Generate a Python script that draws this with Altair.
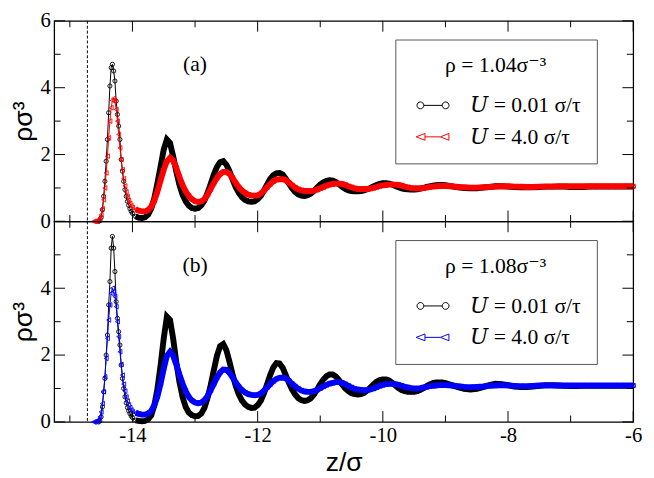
import math
import altair as alt
import pandas as pd

# ---------------- data ----------------
Z_FINE = [-14.64, -14.62, -14.60, -14.58, -14.56, -14.54, -14.52, -14.50, -14.48, -14.46,
          -14.44, -14.42, -14.40, -14.38, -14.36, -14.34, -14.32, -14.30, -14.28, -14.26,
          -14.24, -14.22, -14.20, -14.18, -14.16, -14.14, -14.12, -14.10, -14.08, -14.06,
          -14.04, -14.02, -14.00]
Z_MED = [-13.95, -13.90, -13.85, -13.80, -13.75, -13.70, -13.65, -13.60, -13.55, -13.50,
         -13.45, -13.40, -13.35, -13.30, -13.25, -13.20, -13.15, -13.10, -13.05, -13.00,
         -12.95, -12.90, -12.85, -12.80, -12.75, -12.70, -12.65, -12.60, -12.55, -12.50,
         -12.45, -12.40, -12.35, -12.30, -12.25, -12.20, -12.15, -12.10, -12.05, -12.00,
         -11.95, -11.90, -11.85, -11.80, -11.75, -11.70, -11.65, -11.60, -11.55, -11.50,
         -11.45, -11.40, -11.35, -11.30, -11.25, -11.20, -11.15, -11.10, -11.05, -11.00,
         -10.95, -10.90, -10.85, -10.80, -10.75, -10.70, -10.65, -10.60, -10.55, -10.50,
         -10.45, -10.40, -10.35, -10.30, -10.25, -10.20, -10.15, -10.10, -10.05, -10.00,
         -9.95, -9.90, -9.85, -9.80, -9.75, -9.70, -9.65, -9.60, -9.55, -9.50,
         -9.45, -9.40, -9.35, -9.30, -9.25, -9.20, -9.15, -9.10, -9.05, -9.00]
Z_COARSE = [-8.9, -8.8, -8.7, -8.6, -8.5, -8.4, -8.3, -8.2, -8.1, -8.0,
            -7.9, -7.8, -7.7, -7.6, -7.5, -7.4, -7.3, -7.2, -7.1, -7.0,
            -6.9, -6.8, -6.7, -6.6, -6.5, -6.4, -6.3, -6.2, -6.1, -6.0]
Z = Z_FINE + Z_MED + Z_COARSE

# panel (a), rho = 1.04, U = 0.01
A_SLOW = [None, None, None, None, None, 0.0, 0.02, 0.12, 0.35, 0.75,
          1.2, 1.8, 2.45, 3.25, 4.05, 4.6, 4.7, 4.5, 4.2, 3.6,
          3.2, 2.85, 2.45, 1.85, 1.5, 1.2, 0.95, 0.75, 0.6, 0.48,
          0.38, 0.3, 0.24,
          0.15, 0.11, 0.10, 0.12, 0.2, 0.38, 0.7, 1.15, 1.65, 2.15,
          2.45, 2.35, 1.95, 1.5, 1.1, 0.8, 0.6, 0.47, 0.4, 0.38,
          0.4, 0.48, 0.62, 0.85, 1.12, 1.4, 1.63, 1.77, 1.8, 1.7,
          1.5, 1.25, 1.02, 0.85, 0.72, 0.64, 0.6, 0.59, 0.6, 0.66,
          0.76, 0.92, 1.1, 1.27, 1.38, 1.44, 1.45, 1.4, 1.28, 1.13,
          0.99, 0.88, 0.81, 0.77, 0.76, 0.78, 0.83, 0.91, 1.01, 1.1,
          1.17, 1.21, 1.23, 1.22, 1.18, 1.11, 1.03, 0.97, 0.93, 0.91,
          0.9, 0.9, 0.91, 0.93, 0.96, 1.0, 1.05, 1.09, 1.12, 1.14,
          1.14, 1.13, 1.1, 1.06, 1.02, 0.99, 0.97, 0.96, 0.95, 0.95,
          0.96, 0.98, 1.0, 1.03, 1.05, 1.07, 1.08, 1.09, 1.09, 1.08,
          1.05, 1.02, 1.0, 0.99, 0.99, 1.01, 1.03, 1.05, 1.05, 1.04,
          1.03, 1.02, 1.02, 1.02, 1.03, 1.04, 1.04, 1.04, 1.04, 1.03,
          1.03, 1.03, 1.04, 1.04, 1.04, 1.04, 1.04, 1.04, 1.04, 1.04]
# panel (a), rho = 1.04, U = 4.0
A_FAST = [None, 0.0, 0.0, 0.01, 0.02, 0.05, 0.1, 0.2, 0.38, 0.65,
          1.0, 1.45, 1.95, 2.5, 3.0, 3.4, 3.62, 3.68, 3.6, 3.35,
          3.0, 2.6, 2.2, 1.85, 1.55, 1.28, 1.06, 0.88, 0.74, 0.63,
          0.54, 0.47, 0.42,
          0.36, 0.32, 0.3, 0.3, 0.34, 0.44, 0.62, 0.9, 1.23, 1.55,
          1.8, 1.9, 1.82, 1.6, 1.33, 1.09, 0.9, 0.76, 0.66, 0.6,
          0.58, 0.6, 0.67, 0.8, 0.97, 1.15, 1.3, 1.42, 1.48, 1.48,
          1.42, 1.3, 1.15, 1.02, 0.92, 0.85, 0.8, 0.78, 0.77, 0.78,
          0.83, 0.92, 1.02, 1.12, 1.2, 1.25, 1.26, 1.26, 1.23, 1.16,
          1.08, 1.01, 0.96, 0.93, 0.91, 0.91, 0.91, 0.92, 0.95, 0.99,
          1.03, 1.07, 1.1, 1.12, 1.13, 1.13, 1.12, 1.09, 1.05, 1.02,
          0.99, 0.97, 0.97, 0.97, 0.97, 0.98, 1.0, 1.03, 1.06, 1.08,
          1.09, 1.1, 1.1, 1.1, 1.09, 1.07, 1.04, 1.02, 1.0, 0.99,
          0.99, 0.99, 1.0, 1.01, 1.03, 1.04, 1.05, 1.06, 1.06, 1.06,
          1.05, 1.03, 1.02, 1.01, 1.01, 1.02, 1.03, 1.04, 1.05, 1.05,
          1.04, 1.04, 1.03, 1.03, 1.04, 1.04, 1.04, 1.05, 1.05, 1.05,
          1.05, 1.05, 1.05, 1.05, 1.05, 1.05, 1.05, 1.05, 1.05, 1.05]
# panel (b), rho = 1.08, U = 0.01
B_SLOW = [None, None, None, None, None, 0.0, 0.03, 0.15, 0.45, 0.9,
          1.3, 2.0, 2.6, 3.5, 4.2, 5.2, 5.55, 5.2, 4.5, 3.6,
          3.1, 2.7, 2.3, 1.7, 1.3, 1.0, 0.75, 0.57, 0.43, 0.33,
          0.25, 0.18, 0.13,
          0.05, 0.03, 0.02, 0.03, 0.08, 0.2, 0.5, 1.0, 1.7, 2.5,
          3.15, 3.05, 2.5, 1.8, 1.2, 0.75, 0.45, 0.28, 0.2, 0.17,
          0.18, 0.25, 0.42, 0.72, 1.1, 1.55, 1.98, 2.27, 2.33, 2.15,
          1.8, 1.42, 1.08, 0.82, 0.64, 0.52, 0.45, 0.42, 0.43, 0.5,
          0.63, 0.85, 1.12, 1.4, 1.63, 1.76, 1.75, 1.62, 1.4, 1.17,
          0.97, 0.82, 0.71, 0.65, 0.63, 0.65, 0.71, 0.82, 0.97, 1.13,
          1.27, 1.37, 1.42, 1.42, 1.36, 1.25, 1.12, 1.0, 0.92, 0.86,
          0.83, 0.82, 0.83, 0.87, 0.94, 1.03, 1.12, 1.2, 1.25, 1.27,
          1.27, 1.24, 1.17, 1.09, 1.01, 0.95, 0.92, 0.9, 0.9, 0.9,
          0.92, 0.96, 1.01, 1.07, 1.12, 1.16, 1.18, 1.18, 1.18, 1.16,
          1.1, 1.04, 0.99, 0.97, 0.99, 1.04, 1.1, 1.14, 1.13, 1.1,
          1.06, 1.04, 1.04, 1.06, 1.08, 1.1, 1.1, 1.09, 1.08, 1.07,
          1.07, 1.08, 1.08, 1.08, 1.08, 1.08, 1.08, 1.08, 1.08, 1.08]
# panel (b), rho = 1.08, U = 4.0
B_FAST = [None, 0.0, 0.0, 0.01, 0.03, 0.07, 0.15, 0.3, 0.55, 0.9,
          1.35, 1.9, 2.5, 3.05, 3.5, 3.85, 4.0, 3.9, 3.75, 3.45,
          3.0, 2.55, 2.1, 1.72, 1.4, 1.13, 0.92, 0.75, 0.62, 0.51,
          0.43, 0.36, 0.31,
          0.27, 0.24, 0.22, 0.22, 0.25, 0.33, 0.5, 0.77, 1.15, 1.6,
          1.98, 2.1, 1.98, 1.72, 1.42, 1.15, 0.92, 0.75, 0.64, 0.58,
          0.56, 0.58, 0.65, 0.78, 0.95, 1.14, 1.33, 1.48, 1.57, 1.56,
          1.47, 1.33, 1.18, 1.05, 0.95, 0.88, 0.83, 0.81, 0.8, 0.81,
          0.85, 0.93, 1.03, 1.13, 1.22, 1.29, 1.32, 1.33, 1.3, 1.23,
          1.14, 1.06, 0.99, 0.94, 0.91, 0.9, 0.9, 0.92, 0.96, 1.01,
          1.06, 1.11, 1.15, 1.17, 1.19, 1.19, 1.17, 1.13, 1.08, 1.03,
          0.99, 0.97, 0.96, 0.95, 0.95, 0.97, 1.0, 1.04, 1.08, 1.11,
          1.13, 1.14, 1.14, 1.13, 1.11, 1.08, 1.05, 1.03, 1.01, 1.0,
          1.0, 1.01, 1.03, 1.05, 1.07, 1.08, 1.09, 1.1, 1.1, 1.1,
          1.09, 1.07, 1.05, 1.04, 1.05, 1.06, 1.08, 1.09, 1.1, 1.09,
          1.08, 1.07, 1.07, 1.08, 1.09, 1.09, 1.09, 1.09, 1.09, 1.09,
          1.09, 1.09, 1.09, 1.09, 1.09, 1.09, 1.09, 1.09, 1.09, 1.09]

SERIES = ["𝑈 = 0.01 σ/τ", "𝑈 = 4.0 σ/τ"]
PANELS = ["(a)", "(b)"]
DENSITY_TITLES = ["ρ = 1.04σ⁻³", "ρ = 1.08σ⁻³"]
PANEL_COLORS = [["#000000", "#ff0000"], ["#000000", "#0000ff"]]
VALUES = [[A_SLOW, A_FAST], [B_SLOW, B_FAST]]
WALL_Z = [-14.72]
LABEL_Z = [-13.0]
LABEL_RHO = [4.7]
X_DOMAIN = [-15.25, -6]
Y_DOMAIN = [0, 6]
X_MAJOR = [-14, -12, -10, -8, -6]
X_MINOR = [-15, -13, -11, -9, -7]
Y_MAJOR = [0, 2, 4, 6]
Y_MINOR = [1, 3, 5]
Y_LABELS = [[0, 2, 4, 6], [0, 2, 4]]

for pv in VALUES:
    for s in pv:
        assert len(s) == len(Z), len(s)

rows = []
for pi, p in enumerate(PANELS):
    for si, s in enumerate(SERIES):
        for z, v in zip(Z, VALUES[pi][si]):
            if v is not None:
                rows.append({"panel": p, "series": s, "z": z, "rho": v})
df = pd.DataFrame(rows)

SERIF = "Liberation Serif"
LEGEND_FONT = "Liberation Serif, DejaVu Serif, serif"
SANS = "Liberation Sans"
W, H = 589, 204
MAJOR_LEN, MINOR_LEN = 11, 6.5


def ring(cx, r, n=16):
    pts = [(cx + r * math.cos(2 * math.pi * k / n), r * math.sin(2 * math.pi * k / n)) for k in range(n)]
    return "M" + " L".join(f"{x:.3f} {y:.3f}" for x, y in pts) + " Z"


CIRC_PATH = "M0.19 0 L1.97 0 " + ring(-0.14, 0.33) + " " + ring(2.30, 0.33)
TRI_PATH = "M-0.55 0 L0.3 -0.33 L0.3 0.33 Z M0.3 0 L1.8 0 M1.8 0 L2.62 -0.33 L2.62 0.33 Z"


def panel(pi):
    p = PANELS[pi]
    d = df[df.panel == p]
    xs = alt.Scale(domain=X_DOMAIN, nice=False, zero=False)
    ys = alt.Scale(domain=Y_DOMAIN, nice=False, zero=False)
    c_slow, c_fast = PANEL_COLORS[pi]

    def X(axis, field="z"):
        return alt.X(f"{field}:Q", scale=xs, axis=axis)

    def Y(axis, field="rho"):
        return alt.Y(f"{field}:Q", scale=ys, axis=axis)

    if pi == 1:
        x_lab = alt.Axis(orient="bottom", values=X_MAJOR, ticks=False, tickSize=0, domain=False,
                         grid=False, labelFont=SERIF, labelFontSize=21, labelPadding=3,
                         labelFlush=False, labelExpr="'' + datum.value",
                         title="z/σ", titleFont=SANS, titleFontSize=27, titleFontWeight="normal",
                         titlePadding=4)
    else:
        x_lab = None
    y_lab = alt.Axis(orient="left", values=Y_LABELS[pi], ticks=False, tickSize=0, domain=False,
                     grid=False, labelFont=SERIF, labelFontSize=21, labelPadding=4,
                     labelFlush=False,
                     title="ρσ³", titleFont=SANS, titleFontSize=27, titleFontWeight="normal",
                     titlePadding=3)

    # inward ticks on all four edges, placed through the scales
    ticks = []
    for vals, ln in ((X_MAJOR, MAJOR_LEN), (X_MINOR, MINOR_LEN)):
        src = alt.Chart(pd.DataFrame({"v": vals})).mark_rule(color="black", strokeWidth=1)
        ticks.append(src.encode(x=X(None, "v"), y=alt.value(H), y2=alt.value(H - ln)))
        ticks.append(src.encode(x=X(None, "v"), y=alt.value(0), y2=alt.value(ln)))
    for vals, ln in ((Y_MAJOR, MAJOR_LEN), (Y_MINOR, MINOR_LEN)):
        src = alt.Chart(pd.DataFrame({"v": vals})).mark_rule(color="black", strokeWidth=1)
        ticks.append(src.encode(y=Y(None, "v"), x=alt.value(0), x2=alt.value(ln)))
        ticks.append(src.encode(y=Y(None, "v"), x=alt.value(W), x2=alt.value(W - ln)))

    slow = alt.Chart(d).transform_filter(alt.datum.series == SERIES[0])
    fast = alt.Chart(d).transform_filter(alt.datum.series == SERIES[1])

    wall = alt.Chart(pd.DataFrame({"z": WALL_Z})).mark_rule(
        color="black", strokeWidth=1, strokeDash=[3, 2]).encode(x=X(None))

    slow_band = slow.transform_filter(alt.datum.z >= -13.96).mark_line(
        color=c_slow, strokeWidth=6).encode(x=X(x_lab), y=Y(y_lab))
    slow_line = slow.mark_line(color=c_slow, strokeWidth=1).encode(x=X(None), y=Y(None))
    slow_pts = slow.mark_point(shape="circle", filled=False, color=c_slow, size=18,
                               strokeWidth=0.9, opacity=1).encode(x=X(None), y=Y(None))
    fast_band = fast.transform_filter(alt.datum.z >= -13.96).mark_line(
        color=c_fast, strokeWidth=6).encode(x=X(None), y=Y(None))
    fast_line = fast.mark_line(color=c_fast, strokeWidth=1).encode(x=X(None), y=Y(None))
    fast_pts = fast.mark_point(shape="triangle-left", filled=False, color=c_fast, size=22,
                               strokeWidth=0.9, opacity=1).encode(x=X(None), y=Y(None))

    leg = alt.Legend(title=DENSITY_TITLES[pi], orient="none", legendX=347, legendY=19,
                     fillColor="white", strokeColor="#555555", padding=16,
                     titleFont=LEGEND_FONT, titleFontSize=22, titleFontWeight="normal",
                     titleColor="black", titleAnchor="middle", titlePadding=18, titleLimit=500,
                     labelFont=LEGEND_FONT, labelFontSize=22, labelColor="black", labelOffset=38,
                     labelLimit=500, symbolSize=441, symbolStrokeWidth=1, rowPadding=10)
    legend_layer = alt.Chart(d).transform_filter("false").mark_point(
        filled=False, opacity=1, strokeWidth=1).encode(
        x=X(None), y=Y(None),
        color=alt.Color("series:N", scale=alt.Scale(domain=SERIES, range=PANEL_COLORS[pi]), legend=leg),
        shape=alt.Shape("series:N", scale=alt.Scale(domain=SERIES, range=[CIRC_PATH, TRI_PATH]), legend=leg),
    )

    label = alt.Chart(pd.DataFrame({"z": LABEL_Z, "rho": LABEL_RHO, "t": [p]})).mark_text(
        font=SERIF, fontSize=22, color="black").encode(x=X(None), y=Y(None), text="t:N")

    return alt.layer(wall, slow_band, slow_line, slow_pts, fast_band, fast_line, fast_pts,
                     legend_layer, label, *ticks).resolve_axis(
        x="independent", y="independent").properties(width=W, height=H)


chart = alt.vconcat(panel(0), panel(1), spacing=0, bounds="flush").resolve_scale(
    color="independent", shape="independent").resolve_legend(
    color="independent", shape="independent").properties(
    padding={"left": 0, "top": -3, "right": 0, "bottom": 0}).configure_view(
    stroke="black", strokeWidth=1.3).configure_axis(
    tickColor="black", tickWidth=1, labelColor="black", titleColor="black")

chart.save("out.html", embed_options={"renderer": "svg", "actions": False})
